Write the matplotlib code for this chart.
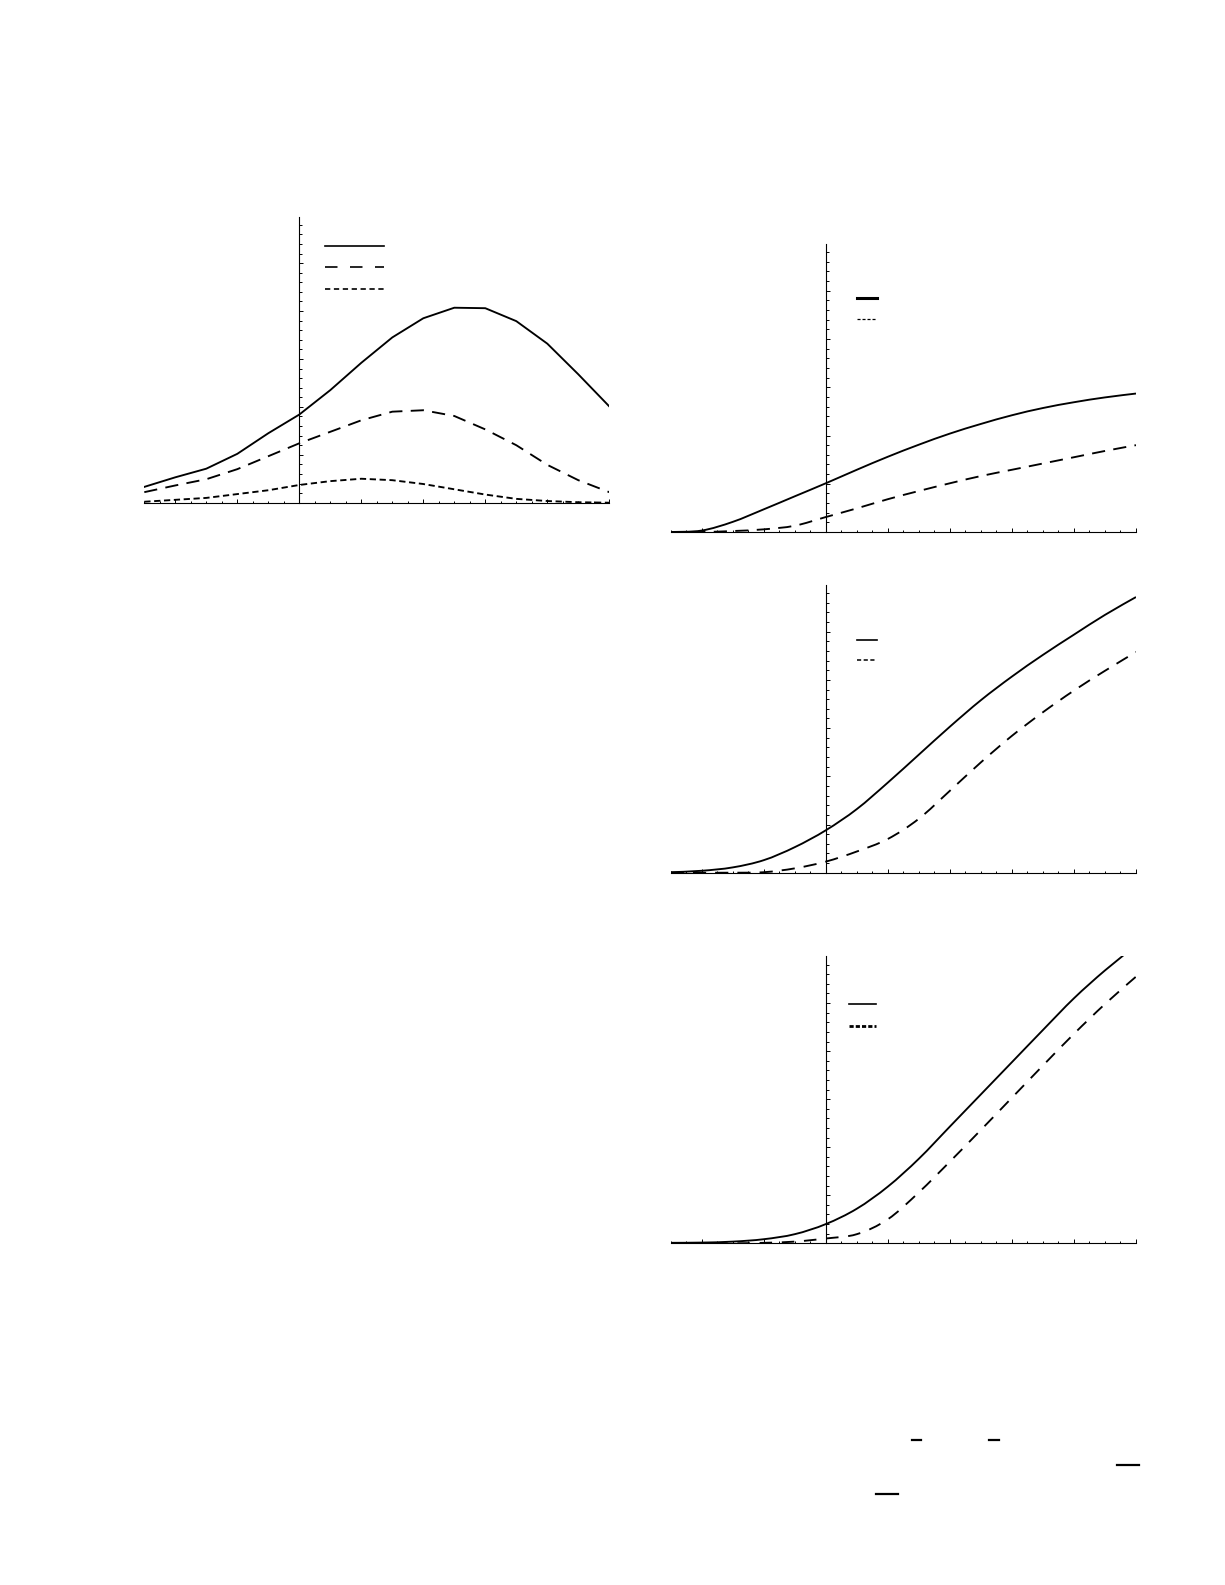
import numpy as np
import matplotlib
matplotlib.use("Agg")
import matplotlib.pyplot as plt
from matplotlib.lines import Line2D
from matplotlib.path import Path
from matplotlib.patches import PathPatch
from matplotlib.ticker import FixedLocator, MultipleLocator

plt.rcParams['lines.scale_dashes'] = False

# sample points shared by all four panels
x = [-2.5, -2.0, -1.5, -1.0, -0.5, 0.0, 0.5, 1.0, 1.5, 2.0, 2.5, 3.0, 3.5, 4.0, 4.5, 5.0]

# panel a (top left): three bell shaped curves, drawn as polylines like the original
a_solid = [0.33, 0.53, 0.71, 1.02, 1.45, 1.84, 2.35, 2.92, 3.45, 3.85, 4.07, 4.06, 3.79, 3.32, 2.68, 2.01]
a_long = [0.22, 0.36, 0.49, 0.70, 0.97, 1.24, 1.48, 1.72, 1.90, 1.93, 1.81, 1.53, 1.20, 0.79, 0.47, 0.22]
a_short = [0.02, 0.06, 0.10, 0.18, 0.26, 0.37, 0.45, 0.50, 0.47, 0.39, 0.28, 0.17, 0.08, 0.035, 0.01, 0.0]

# panel b (top right)
b_solid = [0.0, 0.03, 0.21, 0.47, 0.74, 1.01, 1.29, 1.56, 1.81, 2.04, 2.24, 2.42, 2.57, 2.69, 2.79, 2.87]
b_dash = [0.0, 0.0, 0.02, 0.055, 0.13, 0.31, 0.49, 0.68, 0.85, 1.01, 1.16, 1.29, 1.42, 1.55, 1.68, 1.80]

# panel c (middle right)
c_solid = [0.01, 0.04, 0.11, 0.26, 0.53, 0.88, 1.32, 1.87, 2.45, 3.03, 3.58, 4.07, 4.52, 4.94, 5.35, 5.72]
c_dash = [0.0, 0.0, 0.0, 0.01, 0.09, 0.23, 0.44, 0.70, 1.12, 1.70, 2.29, 2.84, 3.33, 3.78, 4.19, 4.58]

# panel d (bottom right)
d_solid = [0.01, 0.015, 0.035, 0.085, 0.19, 0.40, 0.72, 1.18, 1.76, 2.43, 3.10, 3.77, 4.44, 5.10, 5.68, 6.20]
d_dash = [0.0, 0.0, 0.0, 0.01, 0.035, 0.10, 0.19, 0.50, 1.06, 1.70, 2.36, 3.03, 3.70, 4.36, 4.98, 5.55]

W, H = 1225, 1585
fig = plt.figure(figsize=(W / 100, H / 100), dpi=100)


def px_axes(l, r, b, t):
    return fig.add_axes([l / W, 1 - b / H, (r - l) / W, (b - t) / H])


def style(ax):
    ax.set_xlim(-2.5, 5.0)
    ax.set_ylim(0, 5.97)
    for s in ['top', 'right']:
        ax.spines[s].set_visible(False)
    ax.spines['left'].set_position(('data', 0))
    ax.spines['left'].set_linewidth(0.8)
    ax.spines['bottom'].set_linewidth(0.8)
    ax.xaxis.set_major_locator(FixedLocator([-2, -1, 1, 2, 3, 4, 5]))
    ax.xaxis.set_minor_locator(MultipleLocator(0.25))
    ax.yaxis.set_major_locator(FixedLocator([1, 2, 3, 4, 5]))
    ax.yaxis.set_minor_locator(MultipleLocator(0.2))
    ax.tick_params(which='both', direction='in', labelbottom=False, labelleft=False,
                   width=0.7, color='black')
    ax.tick_params(which='major', length=3)
    ax.tick_params(which='minor', length=1.8)


def smooth(ax, xs, ys, **kw):
    # smooth curve through the read points (Catmull-Rom as cubic Bezier segments)
    p = np.column_stack([xs, ys]).astype(float)
    verts = [p[0]]
    codes = [Path.MOVETO]
    for i in range(len(p) - 1):
        p0 = p[max(i - 1, 0)]
        p3 = p[min(i + 2, len(p) - 1)]
        c1 = p[i] + (p[i + 1] - p0) / 6
        c2 = p[i + 1] - (p3 - p[i]) / 6
        verts += [c1, c2, p[i + 1]]
        codes += [Path.CURVE4] * 3
    ax.add_patch(PathPatch(Path(verts, codes), fill=False, edgecolor='k',
                           capstyle='butt', **kw))


LW = 1.35
long_dash = (0, (9.5, 6))
short_dash = (0, (4.5, 2.6))

# panel a
ax1 = px_axes(144.3, 609.3, 502.7, 216.7)
style(ax1)
ax1.plot(x, a_solid, color='k', lw=LW)
ax1.plot(x, a_long, color='k', lw=LW, ls=long_dash)
ax1.plot(x, a_short, color='k', lw=LW, ls=short_dash)
h1 = [Line2D([], [], color='k', lw=1.2),
      Line2D([], [], color='k', lw=1.2, ls=(0, (9, 9))),
      Line2D([], [], color='k', lw=1.2, ls=(0, (3.8, 2.6)))]
ax1.legend(h1, [''] * 3, loc='center left', bbox_to_anchor=(0.3886, 0.8196),
           frameon=False, fontsize=10, handlelength=4.25, handletextpad=0,
           borderpad=0, borderaxespad=0, labelspacing=0.55)

# panel b
ax2 = px_axes(670.7, 1136, 532, 244)
style(ax2)
smooth(ax2, x, b_solid, lw=LW)
smooth(ax2, x, b_dash, lw=LW, linestyle=long_dash)
h2 = [Line2D([], [], color='k', lw=2.2),
      Line2D([], [], color='k', lw=0.9, ls=(0, (2.2, 1.4)))]
ax2.legend(h2, [''] * 2, loc='center left', bbox_to_anchor=(0.3997, 0.7731),
           frameon=False, fontsize=10, handlelength=1.45, handletextpad=0,
           borderpad=0, borderaxespad=0, labelspacing=0.5)

# panel c
ax3 = px_axes(670.7, 1136, 872.7, 585)
style(ax3)
smooth(ax3, x, c_solid, lw=LW)
smooth(ax3, x, c_dash, lw=LW, linestyle=(0, (9.5, 6.5)))
h3 = [Line2D([], [], color='k', lw=1.2),
      Line2D([], [], color='k', lw=1.1, ls=(0, (3, 1.8)))]
ax3.legend(h3, [''] * 2, loc='center left', bbox_to_anchor=(0.3997, 0.7718),
           frameon=False, fontsize=10, handlelength=1.45, handletextpad=0,
           borderpad=0, borderaxespad=0, labelspacing=0.45)

# panel d
ax4 = px_axes(670.7, 1136, 1243.3, 956)
style(ax4)
ax4.set_ylim(0, 5.98)
smooth(ax4, x, d_solid, lw=LW)
smooth(ax4, x, d_dash, lw=LW, linestyle=(0, (9, 7)))
h4 = [Line2D([], [], color='k', lw=1.2),
      Line2D([], [], color='k', lw=2.0, ls=(0, (3, 1.5)))]
ax4.legend(h4, [''] * 2, loc='center left', bbox_to_anchor=(0.3832, 0.7911),
           frameon=False, fontsize=10, handlelength=1.95, handletextpad=0,
           borderpad=0, borderaxespad=0, labelspacing=0.6)

# leftover fraction bars / minus signs of the caption formula (pixel positions)
bars = [(912, 921, 1440), (989, 999, 1440), (1117, 1139, 1465), (876, 898, 1494)]
for x0, x1, yb in bars:
    fig.add_artist(Line2D([x0 / W, x1 / W], [1 - yb / H, 1 - yb / H],
                          transform=fig.transFigure, color='k', lw=1.6))

fig.savefig('out.png', dpi=100)
